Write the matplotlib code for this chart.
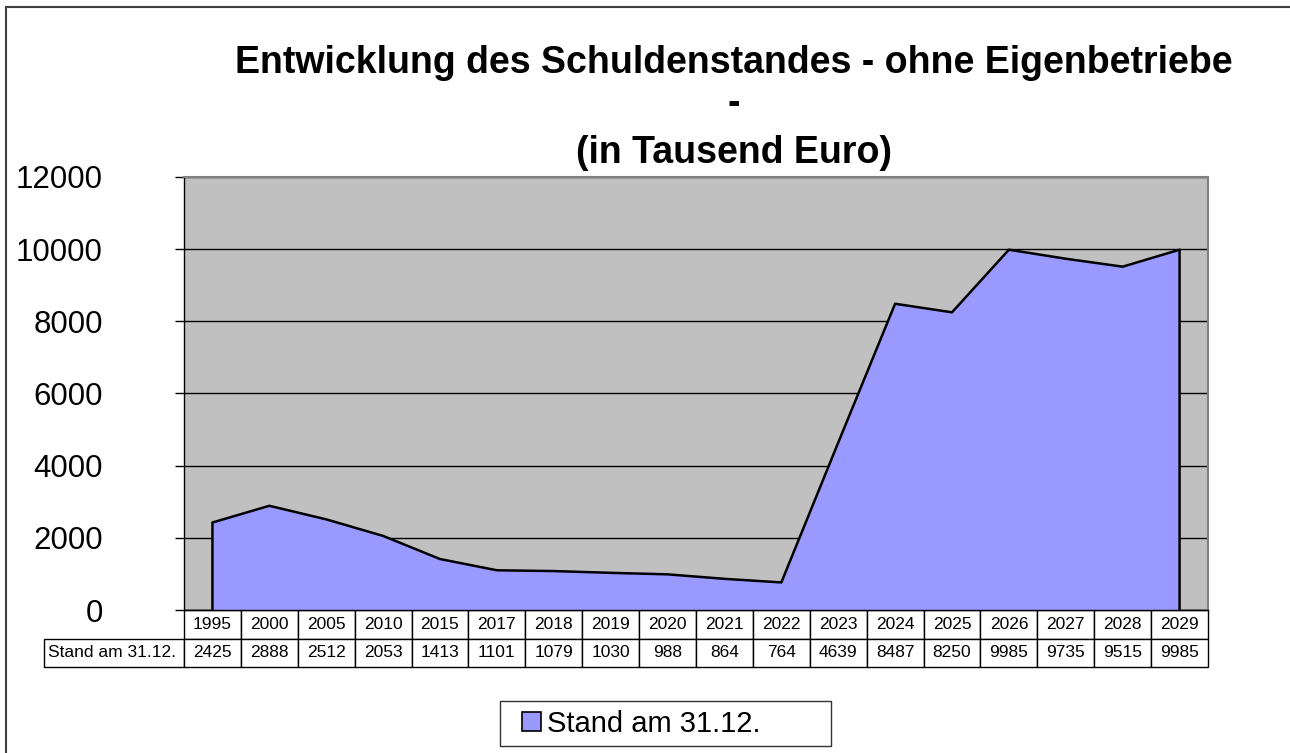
import matplotlib
matplotlib.use('Agg')
import matplotlib.pyplot as plt
from matplotlib.patches import Patch, Rectangle
from matplotlib.lines import Line2D
from matplotlib.legend_handler import HandlerPatch

plt.rcParams['font.family'] = ['Liberation Sans', 'DejaVu Sans']

# Daten (Tabelle unter dem Diagramm)
jahre = ['1995', '2000', '2005', '2010', '2015', '2017', '2018', '2019', '2020',
         '2021', '2022', '2023', '2024', '2025', '2026', '2027', '2028', '2029']
stand = [2425, 2888, 2512, 2053, 1413, 1101, 1079, 1030, 988,
         864, 764, 4639, 8487, 8250, 9985, 9735, 9515, 9985]
reihe = 'Stand am 31.12.'
titel = ['Entwicklung des Schuldenstandes - ohne Eigenbetriebe', '-', '(in Tausend Euro)']
y_ticks = [0, 2000, 4000, 6000, 8000, 10000, 12000]

W, H = 1290, 753
fig = plt.figure(figsize=(W / 100, H / 100), dpi=100)
fig.patch.set_facecolor('white')

# Zeichenfläche in Pixeln: links 184, rechts 1208, oben 177, unten 610
left, right, top, bottom = 184, 1208, 177, 610
ax = fig.add_axes([left / W, 1 - bottom / H, (right - left) / W, (bottom - top) / H])
ax.set_facecolor('#C0C0C0')

x = list(range(len(jahre)))
ax.fill_between(x, stand, 0, color='#9999FF', linewidth=0, zorder=2)
# Umriss inkl. senkrechter Kanten am Anfang und Ende
ax.plot([x[0]] + x + [x[-1]], [0] + stand + [0], color='black', lw=1.8, zorder=3)

ax.set_xlim(-0.5, len(jahre) - 0.5)
ax.set_ylim(0, 12000)
ax.set_xticks([])
ax.set_yticks(y_ticks)
ax.set_yticklabels([str(v) for v in y_ticks])
ax.tick_params(axis='y', direction='out', length=6.5, width=1, color='black',
               labelsize=22.5, pad=52)
ax.grid(axis='y', color='black', lw=1, zorder=1)
ax.set_axisbelow(True)

for s in ['top', 'right']:
    ax.spines[s].set_color('#808080')
    ax.spines[s].set_linewidth(1.5)
for s in ['left', 'bottom']:
    ax.spines[s].set_color('black')
    ax.spines[s].set_linewidth(1)

# Datentabelle
lab_w = (184 - 44) / (right - left)
tab_h = 57 / (bottom - top)
cell_text = [[''] + jahre, [reihe] + [str(v) for v in stand]]
col_w = [lab_w] + [1 / len(jahre)] * len(jahre)
tab = ax.table(cellText=cell_text, colWidths=col_w, cellLoc='center',
               bbox=[-lab_w, -tab_h, 1 + lab_w, tab_h])
tab.auto_set_font_size(False)
tab.set_fontsize(12.5)
for (r, c), cell in tab.get_celld().items():
    cell.set_edgecolor('black')
    cell.set_linewidth(1)
    cell.set_facecolor('white')
tab[0, 0].visible_edges = ''
tab[1, 0].PAD = 0.03
tab[1, 0].set_text_props(ha='left')

# Titel (Grundlinien der drei Zeilen in Pixeln)
for zeile, base in zip(titel, [73, 114, 163]):
    fig.text(734 / W, 1 - base / H, zeile, ha='center', va='baseline',
             fontsize=27, fontweight='bold')


# Legende: kleines Quadrat mit etwas Abstand links
def quadrat(legend, orig_handle, xdescent, ydescent, width, height, fontsize):
    s = 19 * 72 / 100
    return Rectangle((-xdescent + width - s, -ydescent + (height - s) / 2), s, s)


handles = [Patch(facecolor='#9999FF', edgecolor='black', linewidth=1.2)]
leg = fig.legend(handles, [reihe], loc='center',
                 bbox_to_anchor=(500 / W, 1 - 745 / H, 331 / W, 43 / H),
                 mode='expand', fontsize=21, frameon=True, fancybox=False,
                 handlelength=1.1, handleheight=0.7, handletextpad=0.2,
                 borderpad=0.3, borderaxespad=0,
                 handler_map={Patch: HandlerPatch(patch_func=quadrat)})
leg.get_frame().set_edgecolor('black')
leg.get_frame().set_linewidth(1)

# Rahmen des Diagrammbereichs (oben und links sichtbar)
fig.add_artist(Line2D([6 / W, 1], [1 - 7 / H, 1 - 7 / H], color='#404040', lw=1.5,
                      transform=fig.transFigure))
fig.add_artist(Line2D([6 / W, 6 / W], [0, 1 - 7 / H], color='#404040', lw=1.5,
                      transform=fig.transFigure))

fig.savefig('out.png', dpi=100)
